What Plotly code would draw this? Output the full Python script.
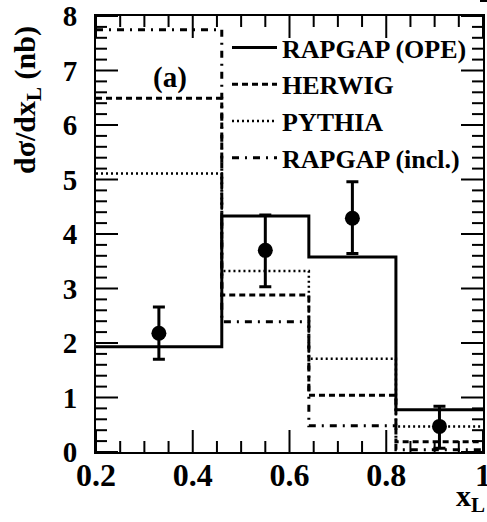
import plotly.graph_objects as go

# ---- data ----
bin_edges = [0.2, 0.46, 0.64, 0.82, 1.0]
rapgap_ope = [1.93, 4.33, 3.58, 0.775]
herwig = [6.49, 2.88, 1.04, 0.19]
pythia = [5.11, 3.32, 1.71, 0.47]
rapgap_incl = [7.75, 2.39, 0.48, 0.04]

data_x = [0.33, 0.55, 0.73, 0.91]
data_y = [2.18, 3.70, 4.29, 0.47]
err_up = [0.48, 0.65, 0.67, 0.37]
err_dn = [0.48, 0.67, 0.65, 0.40]

x_range = [0.2, 1.0]
y_range = [0, 8]
x_major = [0.2, 0.4, 0.6, 0.8, 1.0]
x_ticklabels = ["0.2", "0.4", "0.6", "0.8", "1"]
x_minor = [0.25, 0.3, 0.35, 0.45, 0.5, 0.55, 0.65, 0.7, 0.75, 0.85, 0.9, 0.95]
y_major = [0, 1, 2, 3, 4, 5, 6, 7, 8]
y_ticklabels = ["0", "1", "2", "3", "4", "5", "6", "7", "8"]
y_minor = [0.2, 0.4, 0.6, 0.8, 1.2, 1.4, 1.6, 1.8, 2.2, 2.4, 2.6, 2.8,
           3.2, 3.4, 3.6, 3.8, 4.2, 4.4, 4.6, 4.8, 5.2, 5.4, 5.6, 5.8,
           6.2, 6.4, 6.6, 6.8, 7.2, 7.4, 7.6, 7.8]

names = ["RAPGAP (OPE)", "HERWIG", "PYTHIA", "RAPGAP (incl.)"]
series = [rapgap_ope, herwig, pythia, rapgap_incl]
styles = [
    dict(dash="solid", width=3),
    dict(dash="6px,4px", width=3),
    dict(dash="2px,3px", width=2.5),
    dict(dash="7px,6px,2px,6px", width=3),
]

FONT = "Liberation Serif"
W, H = 487, 522
L, R, T, B = 96, 4, 16, 70
pw, ph = W - L - R, H - T - B
MAJ, MIN = 22, 11  # tick lengths in pixels


def px_x(p):
    return (p - L) / pw


def px_y(p):
    return (H - B - p) / ph


fig = go.Figure()

for i, (nm, vals, st) in enumerate(zip(names, series, styles)):
    fig.add_trace(go.Scatter(
        x=bin_edges, y=list(vals) + [vals[-1]], mode="lines",
        line=dict(color="black", shape="hv", **st),
        name=nm, legendgroup=f"g{i}", showlegend=True,
    ))

# inside, mirrored tick marks: one short line trace per tick, in axis units
x_per_px = (x_range[1] - x_range[0]) / pw
y_per_px = (y_range[1] - y_range[0]) / ph
tick_line = dict(color="black", width=2)
for xv in x_major + x_minor:
    dy = (MAJ if xv in x_major else MIN) * y_per_px
    for y0, y1 in ((y_range[0], y_range[0] + dy), (y_range[1], y_range[1] - dy)):
        fig.add_trace(go.Scatter(x=[xv, xv], y=[y0, y1], mode="lines",
                                 line=tick_line, showlegend=False,
                                 hoverinfo="skip", cliponaxis=False))
for yv in y_major + y_minor:
    dx = (MAJ if yv in y_major else MIN) * x_per_px
    for x0, x1 in ((x_range[0], x_range[0] + dx), (x_range[1], x_range[1] - dx)):
        fig.add_trace(go.Scatter(x=[x0, x1], y=[yv, yv], mode="lines",
                                 line=tick_line, showlegend=False,
                                 hoverinfo="skip", cliponaxis=False))

fig.add_trace(go.Scatter(
    x=data_x, y=data_y, mode="markers",
    marker=dict(symbol="circle", size=15, color="black"),
    error_y=dict(type="data", symmetric=False, array=err_up, arrayminus=err_dn,
                 thickness=3, width=6, color="black"),
    showlegend=False,
))

fig.update_xaxes(
    range=x_range, tickmode="array", tickvals=x_major, ticktext=x_ticklabels,
    showline=True, linecolor="black", linewidth=2, mirror=True,
    ticks="", showgrid=False, zeroline=False, automargin=False,
    ticklabeloverflow="allow", ticklabelstandoff=-6,
    tickfont=dict(family=FONT, size=32, color="black", weight="bold"),
)
fig.update_yaxes(
    range=y_range, tickmode="array", tickvals=y_major, ticktext=y_ticklabels,
    showline=True, linecolor="black", linewidth=2, mirror=True,
    ticks="", showgrid=False, zeroline=False, automargin=False,
    ticklabeloverflow="allow", ticklabelstandoff=11,
    tickfont=dict(family=FONT, size=29, color="black", weight="bold"),
)

fig.add_annotation(
    xref="paper", yref="paper", x=px_x(27), y=px_y(100),
    text="dσ/dx<sub>L</sub> (nb)", textangle=-90, showarrow=False,
    xanchor="center", yanchor="middle",
    font=dict(family=FONT, size=30, color="black", weight="bold"),
)
fig.add_annotation(
    xref="paper", yref="paper", x=px_x(487), y=px_y(519),
    text="x<sub>L</sub>", showarrow=False, xanchor="right", yanchor="bottom",
    font=dict(family=FONT, size=30, color="black", weight="bold"),
)
fig.add_annotation(
    xref="paper", yref="paper", x=px_x(170), y=px_y(77),
    text="(a)", showarrow=False, xanchor="center", yanchor="middle",
    font=dict(family=FONT, size=29, color="black", weight="bold"),
)

fig.add_shape(type="line", xref="paper", yref="paper",
              x0=px_x(480), x1=px_x(487), y0=px_y(1), y1=px_y(1),
              line=dict(color="black", width=2))

fig.update_layout(
    width=W, height=H, margin=dict(l=L, r=R, t=T, b=B, autoexpand=False),
    paper_bgcolor="white", plot_bgcolor="white",
    legend=dict(
        x=px_x(227), y=px_y(24), xanchor="left", yanchor="top",
        bgcolor="rgba(0,0,0,0)", borderwidth=0,
        font=dict(family=FONT, size=26, color="black", weight="bold"),
        itemwidth=45, tracegroupgap=0, traceorder="grouped",
    ),
)

fig.write_html("out.html")
